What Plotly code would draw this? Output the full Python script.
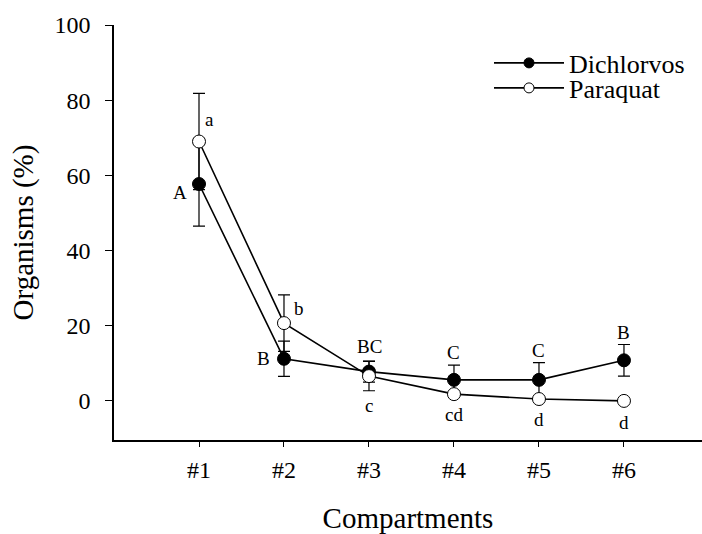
import plotly.graph_objects as go

compartments = [1, 2, 3, 4, 5, 6]
tick_labels = ["#1", "#2", "#3", "#4", "#5", "#6"]

dichlorvos = [57.7, 11.2, 7.8, 5.6, 5.6, 10.8]
dichlorvos_err = [11.2, 4.7, 2.8, 3.9, 4.6, 4.2]
paraquat = [69.0, 20.7, 6.6, 1.8, 0.5, 0.0]
paraquat_err = [12.8, 7.5, 3.9, 0.0, 0.0, 0.0]

dichlorvos_letters = ["A", "B", "BC", "C", "C", "B"]
paraquat_letters = ["a", "b", "c", "cd", "d", "d"]

# label offsets (pixels) relative to the point
d_shift = [(-19, -8), (-20, 0), (1, 25), (0, 27), (0, 29), (0, 28)]
p_shift = [(10, 22), (15, 15), (0, -29), (0, -20), (0, -20), (0, -22)]

FONT = "Liberation Serif"

fig = go.Figure()
fig.add_trace(go.Scatter(
    x=compartments, y=dichlorvos, name="Dichlorvos", mode="lines+markers",
    line=dict(color="black", width=1.6), showlegend=False,
    marker=dict(symbol="circle", size=13, color="black", line=dict(color="black", width=1)),
    error_y=dict(type="data", array=dichlorvos_err, visible=True, color="black", thickness=1.2, width=6),
))
fig.add_trace(go.Scatter(
    x=compartments, y=paraquat, name="Paraquat", mode="lines+markers",
    line=dict(color="black", width=1.6), showlegend=False,
    marker=dict(symbol="circle", size=13, color="white", line=dict(color="black", width=1)),
    error_y=dict(type="data", array=paraquat_err, visible=True, color="black", thickness=1.2, width=6),
))
# legend entries (smaller markers, as in the original key)
fig.add_trace(go.Scatter(
    x=[None], y=[None], name="Dichlorvos", mode="lines+markers", legend="legend",
    line=dict(color="black", width=1.6),
    marker=dict(symbol="circle", size=10, color="black", line=dict(color="black", width=1)),
))
fig.add_trace(go.Scatter(
    x=[None], y=[None], name="Paraquat", mode="lines+markers", legend="legend2",
    line=dict(color="black", width=1.6),
    marker=dict(symbol="circle", size=10, color="white", line=dict(color="black", width=1)),
))

for xs, ys, letters, shifts in [(compartments, dichlorvos, dichlorvos_letters, d_shift),
                                (compartments, paraquat, paraquat_letters, p_shift)]:
    for x, y, t, (dx, dy) in zip(xs, ys, letters, shifts):
        fig.add_annotation(x=x, y=y, text=t, showarrow=False, xshift=dx, yshift=dy,
                           font=dict(family=FONT, size=19, color="black"))

legend_common = dict(xanchor="left", yanchor="middle",
                     font=dict(family=FONT, size=26, color="black"),
                     bgcolor="rgba(0,0,0,0)", itemwidth=70)

fig.update_layout(
    width=702, height=534,
    margin=dict(l=114, r=0, t=25, b=94),
    paper_bgcolor="white", plot_bgcolor="white",
    font=dict(family=FONT, color="black"),
    showlegend=True,
    legend=dict(x=(489 - 114) / 588, y=(440 - 63) / 415, **legend_common),
    legend2=dict(x=(489 - 114) / 588, y=(440 - 88) / 415, **legend_common),
    xaxis=dict(range=[0, 6.918], tickvals=compartments, ticktext=tick_labels,
               showline=True, linecolor="black", linewidth=1.5, ticks="outside",
               ticklen=5, tickcolor="black", showgrid=False, zeroline=False,
               automargin=False, ticklabelstandoff=2,
               tickfont=dict(family=FONT, size=24, color="black"),
               title=dict(text="Compartments", font=dict(family=FONT, size=29, color="black"), standoff=26)),
    yaxis=dict(range=[-10.4, 100], tickvals=[0, 20, 40, 60, 80, 100],
               showline=True, linecolor="black", linewidth=1.5, ticks="outside",
               ticklen=7, tickcolor="black", showgrid=False, zeroline=False,
               automargin=False, ticklabelstandoff=10,
               tickfont=dict(family=FONT, size=24, color="black"),
               title=dict(text="Organisms (%)", font=dict(family=FONT, size=29, color="black"), standoff=12)),
)

fig.write_html("out.html", config={"displayModeBar": False},
               post_script="document.body.style.margin='0';")
